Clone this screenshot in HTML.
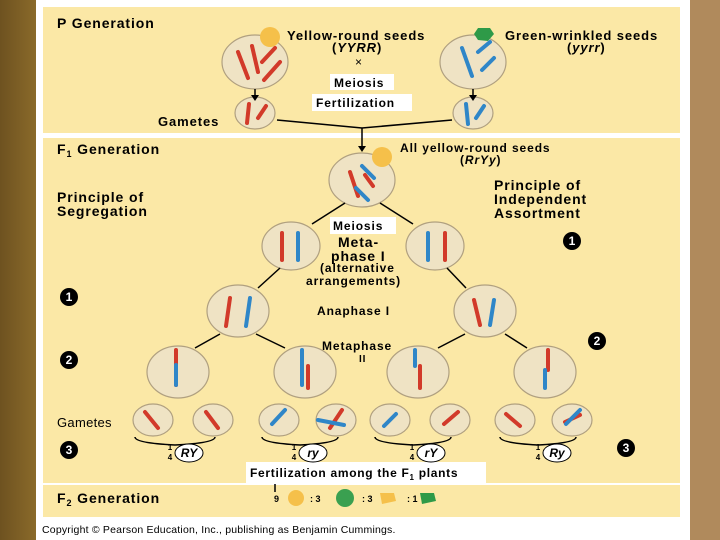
<!DOCTYPE html>
<html><head><style>
body{margin:0;width:720px;height:540px;overflow:hidden;background:#fff}
svg{display:block}
.t{font-family:"Liberation Sans",sans-serif;font-weight:bold;fill:#000;letter-spacing:0.9px}
</style></head><body>
<svg width="720" height="540" viewBox="0 0 720 540">
<defs>
<linearGradient id="lb" x1="0" x2="1"><stop offset="0" stop-color="#6e5220"/><stop offset="1" stop-color="#8a6a2a"/></linearGradient>
</defs>
<rect x="0" y="0" width="36" height="540" fill="url(#lb)"/>
<rect x="690" y="0" width="30" height="540" fill="#b08a5c"/>
<rect x="36" y="0" width="654" height="540" fill="#fff"/>
<rect x="43" y="7" width="637" height="126" fill="#fbe8a6"/>
<rect x="43" y="138" width="637" height="345" fill="#fbe8a6"/>
<rect x="43" y="485" width="637" height="32" fill="#fbe8a6"/>
<rect x="246" y="462" width="240" height="22" fill="#fff"/>
<rect x="330" y="74" width="64" height="16" fill="#fff"/>
<rect x="312" y="94" width="100" height="17" fill="#fff"/>
<rect x="330" y="217" width="66" height="17" fill="#fff"/>

<g class="t" font-size="14">
<text x="57" y="28">P Generation</text>
<text x="57" y="154">F<tspan font-size="9" dy="3">1</tspan><tspan dy="-3"> Generation</tspan></text>
<text x="57" y="503">F<tspan font-size="9" dy="3">2</tspan><tspan dy="-3"> Generation</tspan></text>
<text x="57" y="202">Principle of</text><text x="57" y="216">Segregation</text>
<text x="494" y="190">Principle of</text><text x="494" y="204">Independent</text><text x="494" y="218">Assortment</text>
<text x="287" y="40" font-size="13">Yellow-round seeds</text>
<text x="332" y="52" font-size="13">(<tspan font-style="italic">YYRR</tspan>)</text>
<text x="505" y="40" font-size="13">Green-wrinkled seeds</text>
<text x="567" y="52" font-size="13">(<tspan font-style="italic">yyrr</tspan>)</text>
<text x="355" y="66" font-size="12" font-weight="normal">×</text>
<text x="334" y="87" font-size="12">Meiosis</text>
<text x="316" y="107" font-size="12">Fertilization</text>
<text x="158" y="126" font-size="13">Gametes</text>
<text x="400" y="152" font-size="12">All yellow-round seeds</text>
<text x="460" y="164" font-size="12">(<tspan font-style="italic">RrYy</tspan>)</text>
<text x="333" y="230" font-size="12">Meiosis</text>
<text x="338" y="247" font-size="14">Meta-</text>
<text x="331" y="261" font-size="14">phase I</text>
<text x="320" y="272" font-size="12">(alternative</text>
<text x="306" y="285" font-size="12">arrangements)</text>
<text x="317" y="315" font-size="12">Anaphase I</text>
<text x="322" y="350" font-size="12">Metaphase</text>
<text x="359" y="362" font-size="10">II</text>
<text x="57" y="427" font-size="13" font-weight="normal" letter-spacing="0.3">Gametes</text>
<text x="250" y="477" font-size="12" letter-spacing="0.7">Fertilization among the F<tspan font-size="8" dy="3">1</tspan><tspan dy="-3"> plants</tspan></text>
</g>
<text x="42" y="533" font-family="Liberation Sans,sans-serif" font-size="10.5" letter-spacing="0.2">Copyright © Pearson Education, Inc., publishing as Benjamin Cummings.</text>

<g font-family="Liberation Sans,sans-serif" font-weight="bold" font-size="12" fill="#fff" text-anchor="middle">
<circle cx="572" cy="241" r="9" fill="#000"/><text x="572" y="245">1</text>
<circle cx="69" cy="297" r="9" fill="#000"/><text x="69" y="301">1</text>
<circle cx="597" cy="341" r="9" fill="#000"/><text x="597" y="345">2</text>
<circle cx="69" cy="360" r="9" fill="#000"/><text x="69" y="364">2</text>
<circle cx="69" cy="450" r="9" fill="#000"/><text x="69" y="454">3</text>
<circle cx="626" cy="448" r="9" fill="#000"/><text x="626" y="452">3</text>
</g>

<g fill="#efe3c4" stroke="#b0a080" stroke-width="1.2">
<ellipse cx="255" cy="62" rx="33" ry="27"/>
<ellipse cx="473" cy="62" rx="33" ry="27"/>
<ellipse cx="255" cy="113" rx="20" ry="16"/>
<ellipse cx="473" cy="113" rx="20" ry="16"/>
<ellipse cx="362" cy="180" rx="33" ry="27"/>
<ellipse cx="291" cy="246" rx="29" ry="24"/>
<ellipse cx="435" cy="246" rx="29" ry="24"/>
<ellipse cx="238" cy="311" rx="31" ry="26"/>
<ellipse cx="485" cy="311" rx="31" ry="26"/>
<ellipse cx="178" cy="372" rx="31" ry="26"/>
<ellipse cx="305" cy="372" rx="31" ry="26"/>
<ellipse cx="418" cy="372" rx="31" ry="26"/>
<ellipse cx="545" cy="372" rx="31" ry="26"/>
<ellipse cx="153" cy="420" rx="20" ry="16"/><ellipse cx="213" cy="420" rx="20" ry="16"/>
<ellipse cx="279" cy="420" rx="20" ry="16"/><ellipse cx="336" cy="420" rx="20" ry="16"/>
<ellipse cx="390" cy="420" rx="20" ry="16"/><ellipse cx="450" cy="420" rx="20" ry="16"/>
<ellipse cx="515" cy="420" rx="20" ry="16"/><ellipse cx="572" cy="420" rx="20" ry="16"/>
</g>
<circle cx="270" cy="37" r="10" fill="#f5c04a"/>
<circle cx="382" cy="157" r="10" fill="#f5c04a"/>
<path d="M478 28 l12 0 l4 6 l-6 7 l-10 -1 l-4 -6z" fill="#2e9a48"/>

<g stroke-width="4" stroke-linecap="round">
<g stroke="#d23a2a">
<line x1="238" y1="52" x2="248" y2="78"/><line x1="252" y1="46" x2="258" y2="72"/><line x1="262" y1="62" x2="275" y2="48"/><line x1="264" y1="80" x2="280" y2="62"/>
<line x1="249" y1="104" x2="247" y2="123"/><line x1="258" y1="118" x2="266" y2="106"/>
<line x1="350" y1="172" x2="358" y2="196"/><line x1="365" y1="175" x2="373" y2="186"/>
<line x1="282" y1="233" x2="282" y2="260"/><line x1="445" y1="233" x2="445" y2="260"/>
<line x1="230" y1="298" x2="226" y2="326"/><line x1="474" y1="300" x2="480" y2="325"/>
<line x1="176" y1="350" x2="176" y2="385"/><line x1="308" y1="366" x2="308" y2="388"/><line x1="420" y1="366" x2="420" y2="388"/><line x1="548" y1="350" x2="548" y2="370"/>
<line x1="145" y1="412" x2="158" y2="428"/><line x1="206" y1="412" x2="218" y2="428"/><line x1="342" y1="410" x2="330" y2="428"/><line x1="444" y1="424" x2="458" y2="412"/><line x1="506" y1="414" x2="520" y2="426"/><line x1="565" y1="422" x2="580" y2="415"/>
</g>
<g stroke="#2f86c8">
<line x1="462" y1="48" x2="472" y2="76"/><line x1="478" y1="52" x2="490" y2="42"/><line x1="482" y1="70" x2="494" y2="58"/>
<line x1="466" y1="104" x2="468" y2="124"/><line x1="476" y1="118" x2="484" y2="106"/>
<line x1="362" y1="166" x2="374" y2="178"/><line x1="356" y1="188" x2="368" y2="200"/>
<line x1="298" y1="233" x2="298" y2="260"/><line x1="428" y1="233" x2="428" y2="260"/>
<line x1="250" y1="298" x2="246" y2="326"/><line x1="494" y1="300" x2="490" y2="325"/>
<line x1="176" y1="365" x2="176" y2="385"/><line x1="302" y1="350" x2="302" y2="385"/><line x1="415" y1="350" x2="415" y2="366"/><line x1="545" y1="370" x2="545" y2="388"/>
<line x1="272" y1="424" x2="285" y2="410"/><line x1="384" y1="426" x2="396" y2="414"/><line x1="318" y1="420" x2="344" y2="425"/><line x1="566" y1="424" x2="580" y2="410"/>
</g>
</g>

<g stroke="#000" stroke-width="1.5" fill="none">
<line x1="255" y1="89" x2="255" y2="95"/><line x1="473" y1="89" x2="473" y2="95"/>
<path d="M277 120 L362 128 L452 120"/><line x1="362" y1="128" x2="362" y2="148"/>
<line x1="345" y1="203" x2="312" y2="224"/><line x1="380" y1="203" x2="413" y2="224"/>
<line x1="280" y1="268" x2="258" y2="288"/><line x1="447" y1="268" x2="466" y2="288"/>
<line x1="220" y1="334" x2="195" y2="348"/><line x1="256" y1="334" x2="285" y2="348"/>
<line x1="465" y1="334" x2="438" y2="348"/><line x1="505" y1="334" x2="527" y2="348"/>
<line x1="275" y1="484" x2="275" y2="492"/>
<path d="M135 437 q0 6 40 8 q40 -2 40 -8 M262 437 q0 6 38 8 q38 -2 38 -8 M375 437 q0 6 38 8 q38 -2 38 -8 M500 437 q0 6 38 8 q38 -2 38 -8"/>
</g>
<g fill="#000">
<path d="M251 95 l4 6 l4 -6z"/><path d="M469 95 l4 6 l4 -6z"/><path d="M358 146 l4 6 l4 -6z"/>
</g>
<g font-family="Liberation Sans,sans-serif" font-size="12" font-weight="bold" font-style="italic" text-anchor="middle">
<ellipse cx="189" cy="453" rx="14" ry="9" fill="#fff" stroke="#000"/><text x="189" y="457">RY</text>
<ellipse cx="313" cy="453" rx="14" ry="9" fill="#fff" stroke="#000"/><text x="313" y="457">ry</text>
<ellipse cx="431" cy="453" rx="14" ry="9" fill="#fff" stroke="#000"/><text x="431" y="457">rY</text>
<ellipse cx="557" cy="453" rx="14" ry="9" fill="#fff" stroke="#000"/><text x="557" y="457">Ry</text>
</g>
<g font-family="Liberation Sans,sans-serif" font-size="8" font-weight="bold" text-anchor="middle">
<text x="170" y="450">1</text><text x="170" y="460">4</text>
<text x="294" y="450">1</text><text x="294" y="460">4</text>
<text x="412" y="450">1</text><text x="412" y="460">4</text>
<text x="538" y="450">1</text><text x="538" y="460">4</text>
</g>
<g font-family="Liberation Sans,sans-serif" font-size="9" font-weight="bold">
<text x="274" y="502">9</text><circle cx="296" cy="498" r="8" fill="#f5c04a"/>
<text x="310" y="502">: 3</text><circle cx="345" cy="498" r="9" fill="#3aa050"/>
<text x="362" y="502">: 3</text><path d="M380 493 l14 0 l2 8 l-14 3z" fill="#f5c04a"/>
<text x="407" y="502">: 1</text><path d="M420 493 l14 0 l2 8 l-14 3z" fill="#2e9a48"/>
</g>
</svg>
</body></html>
